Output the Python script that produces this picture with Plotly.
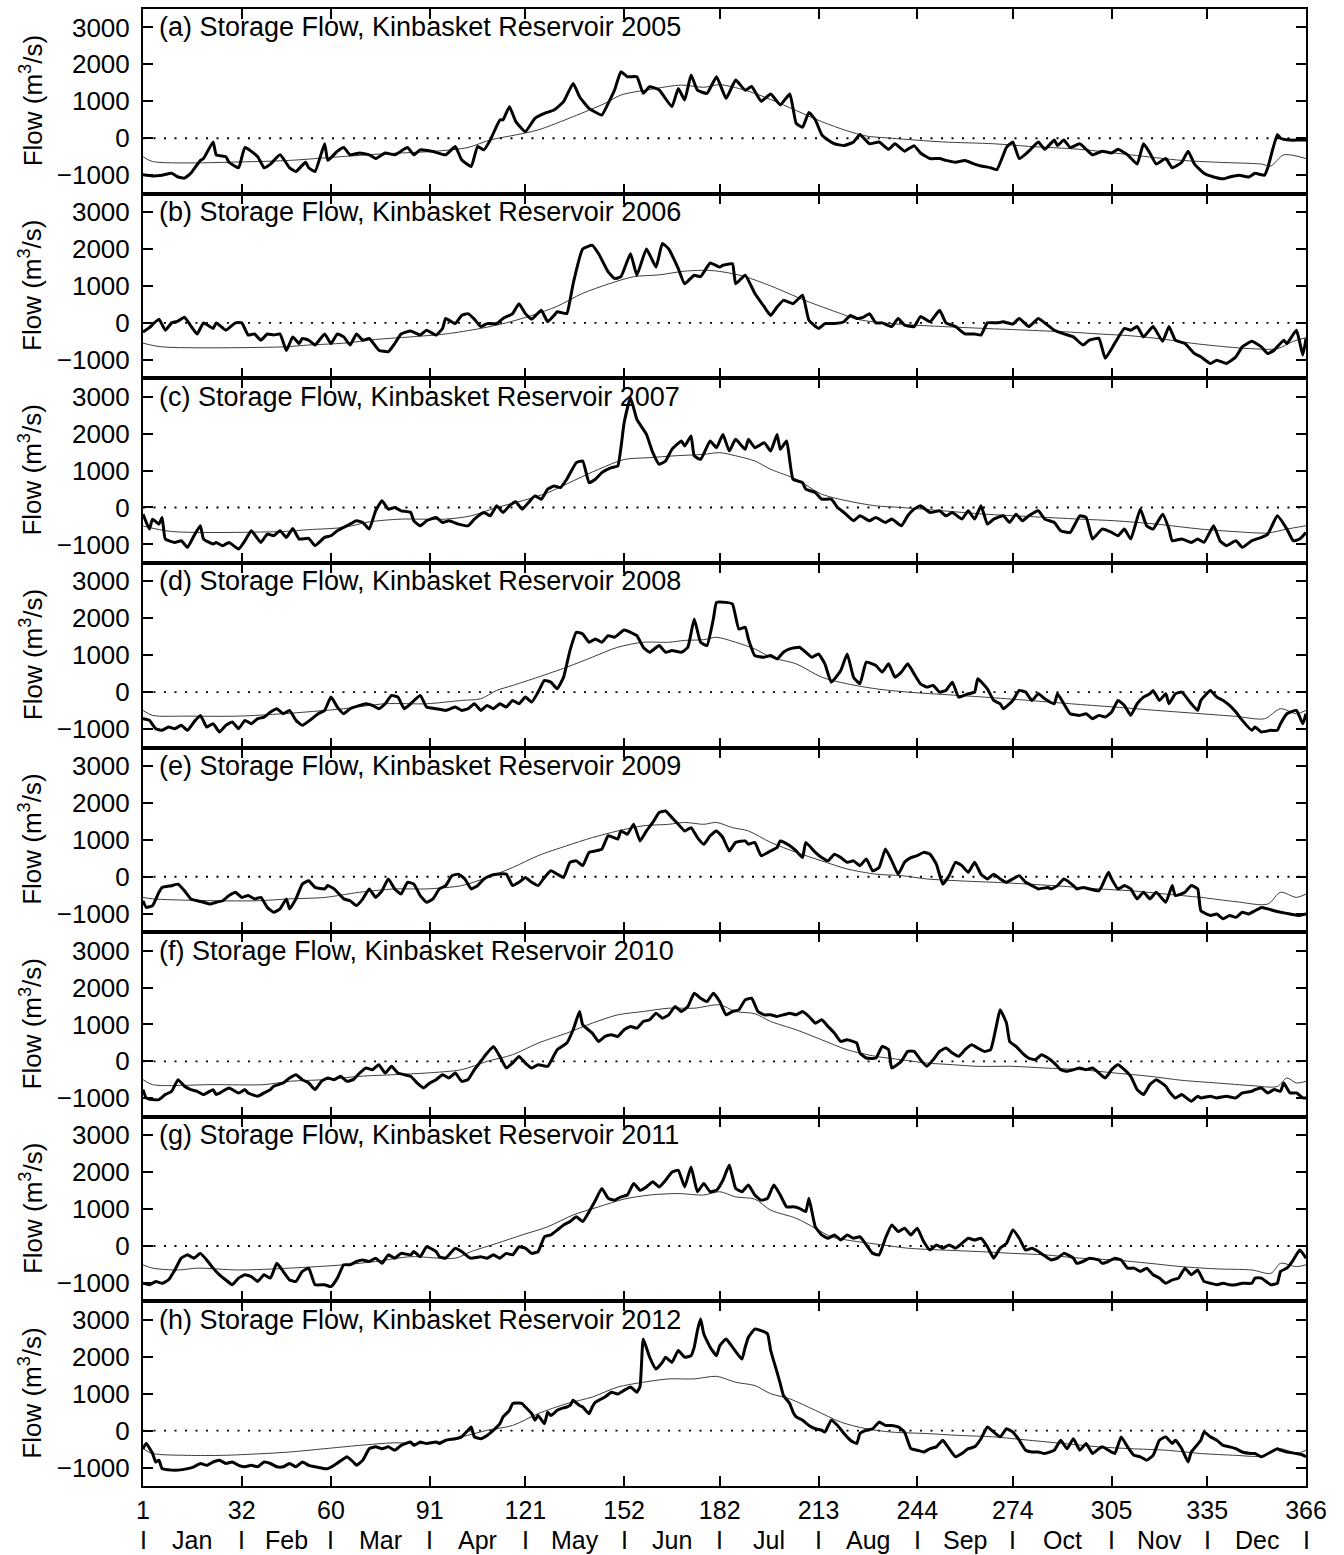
import plotly.graph_objects as go

# ---------------- data ----------------
YEARS = [2005, 2006, 2007, 2008, 2009, 2010, 2011, 2012]
LETTERS = ["a", "b", "c", "d", "e", "f", "g", "h"]
MONTH_BOUNDS = [1, 32, 60, 91, 121, 152, 182, 213, 244, 274, 305, 335, 366]
MONTHS = ["Jan", "Feb", "Mar", "Apr", "May", "Jun", "Jul", "Aug", "Sep", "Oct", "Nov", "Dec"]
Y_TICKS = [-1000, 0, 1000, 2000, 3000]

# daily storage flow (day of year, m3/s) - thick line
FLOW_2005 = [(1,-990),(4,-1020),(7,-1000),(10,-950),(12,-1050),(14,-1080),(16,-950),(19,-600),(20,-550),(23,-100),(24,-450),(27,-500),(28,-650),(31,-800),(33,-250),(37,-500),(39,-800),(41,-700),(44,-450),(47,-800),(49,-900),(52,-650),(53,-800),(55,-900),(58,-150),(59,-600),(62,-350),(64,-250),(66,-450),(69,-400),(72,-450),(74,-550),(77,-400),(80,-450),(84,-250),(86,-450),(88,-315),(92,-360),(96,-450),(99,-225),(101,-585),(104,-765),(106,-225),(108,-315),(110,-45),(113,495),(114,500),(116,855),(118,450),(121,180),(124,540),(127,675),(130,765),(133,990),(136,1485),(138,1125),(141,810),(145,630),(147,945),(149,1305),(151,1800),(153,1665),(156,1665),(158,1215),(160,1395),(163,1305),(167,855),(169,1350),(171,1035),(173,1710),(175,1305),(178,1215),(181,1665),(184,1080),(187,1575),(190,1300),(192,1400),(195,1000),(198,1200),(201,900),(204,1200),(206,400),(208,300),(210,700),(212,500),(214,100),(216,-50),(218,-150),(221,-200),(224,-100),(226,100),(229,-150),(232,-100),(235,-300),(237,-150),(240,-350),(243,-200),(245,-400),(248,-550),(251,-550),(253,-600),(256,-650),(259,-600),(262,-700),(264,-750),(267,-800),(269,-850),(272,-250),(274,-100),(276,-550),(279,-350),(282,-100),(284,-300),(287,-50),(288,-200),(290,-50),(292,-250),(295,-150),(297,-300),(299,-450),(302,-350),(305,-400),(307,-300),(310,-450),(313,-700),(315,-150),(317,-400),(319,-700),(322,-550),(324,-800),(327,-650),(329,-350),(331,-700),(334,-950),(337,-1050),(340,-1100),(342,-1050),(345,-1000),(348,-1050),(350,-950),(353,-1000),(354,-800),(357,100),(358,0),(361,-50),(364,-50),(366,-50)]

FLOW_2006 = [(1,-250),(3,-130),(6,100),(8,-200),(10,0),(12,50),(14,150),(16,-80),(18,-300),(20,0),(23,-150),(24,0),(27,-200),(30,0),(32,0),(34,-330),(36,-300),(38,-470),(40,-300),(42,-330),(44,-300),(46,-750),(48,-380),(50,-560),(51,-420),(53,-470),(55,-600),(58,-300),(60,-560),(62,-300),(64,-380),(66,-600),(68,-300),(70,-470),(72,-420),(75,-740),(78,-780),(80,-560),(82,-300),(85,-220),(88,-330),(90,-200),(93,-330),(95,-150),(96,120),(99,-20),(101,200),(103,250),(105,100),(107,-100),(109,-20),(112,-20),(114,120),(117,250),(119,520),(121,250),(123,100),(126,340),(128,30),(130,200),(131,300),(134,250),(135,600),(136,1060),(139,2000),(142,2100),(144,1870),(147,1380),(149,1200),(151,1250),(154,1870),(156,1290),(159,2000),(162,1510),(164,2150),(166,2000),(169,1470),(171,1060),(174,1290),(176,1250),(179,1620),(182,1510),(183,1560),(186,1600),(187,1060),(190,1290),(193,800),(196,430),(198,200),(200,430),(202,610),(205,520),(208,750),(210,70),(213,-150),(215,-20),(218,-20),(221,30),(223,200),(225,120),(227,150),(229,250),(231,0),(233,0),(236,-100),(238,120),(240,-60),(243,-100),(245,170),(248,30),(251,340),(253,0),(256,-100),(259,-300),(262,-300),(264,-330),(266,0),(269,0),(271,30),(274,-30),(276,120),(279,-100),(282,120),(284,0),(287,-200),(290,-300),(293,-380),(296,-600),(298,-470),(301,-420),(303,-960),(306,-550),(309,-150),(311,-200),(313,-100),(315,-380),(318,-100),(321,-500),(323,-100),(325,-470),(328,-560),(331,-830),(333,-920),(336,-1100),(338,-1010),(341,-1100),(344,-920),(346,-650),(349,-500),(352,-650),(354,-830),(356,-740),(359,-470),(360,-560),(363,-200),(365,-870),(366,-420)]

FLOW_2007 = [(1,-180),(3,-585),(4,-315),(6,-450),(7,-270),(8,-855),(11,-945),(13,-900),(15,-1080),(17,-765),(19,-495),(20,-855),(23,-990),(24,-945),(26,-1035),(28,-945),(31,-1125),(33,-900),(35,-630),(38,-945),(40,-720),(42,-765),(44,-630),(46,-810),(48,-567),(50,-855),(53,-837),(55,-1035),(58,-810),(60,-765),(62,-630),(65,-495),(68,-360),(70,-405),(72,-585),(74,-90),(76,180),(78,-45),(80,0),(82,-90),(85,-135),(86,-360),(88,-495),(90,-360),(93,-270),(95,-405),(97,-360),(100,-450),(103,-495),(105,-315),(108,-135),(110,-225),(112,45),(114,-135),(116,45),(118,153),(120,-45),(122,135),(124,315),(126,225),(128,495),(130,585),(132,540),(134,765),(137,1215),(139,1260),(141,675),(143,765),(145,945),(148,1080),(150,1125),(152,2295),(154,2970),(156,2385),(159,1980),(161,1485),(163,1170),(165,1260),(167,1575),(170,1800),(171,1665),(173,1935),(174,1395),(176,1305),(179,1800),(181,1620),(183,1980),(185,1530),(187,1845),(190,1575),(191,1845),(193,1620),(196,1755),(198,1530),(200,1980),(201,1575),(203,1800),(205,765),(208,675),(209,495),(212,405),(214,225),(217,225),(219,0),(221,-135),(224,-360),(226,-225),(229,-360),(231,-270),(234,-405),(236,-315),(239,-495),(241,-225),(243,-45),(245,45),(248,-135),(251,-90),(253,-225),(255,-135),(258,-315),(260,-90),(262,-315),(264,45),(266,-450),(268,-315),(271,-225),(273,-405),(275,-180),(277,-360),(279,-225),(282,-90),(284,-315),(287,-405),(289,-630),(292,-675),(295,-225),(297,-270),(299,-855),(302,-585),(305,-675),(307,-765),(309,-585),(311,-855),(314,-45),(316,-495),(318,-585),(321,-180),(323,-585),(324,-900),(327,-855),(330,-945),(332,-855),(334,-945),(337,-495),(339,-900),(341,-1035),(344,-900),(346,-1080),(349,-900),(352,-810),(354,-720),(357,-225),(360,-585),(362,-900),(364,-855),(366,-675)]

FLOW_2008 = [(1,-720),(3,-765),(5,-990),(7,-1035),(9,-945),(11,-990),(13,-900),(15,-1035),(17,-810),(19,-630),(21,-945),(23,-855),(25,-1080),(27,-900),(29,-810),(31,-990),(33,-765),(35,-855),(37,-720),(39,-675),(41,-540),(43,-450),(45,-585),(47,-495),(49,-765),(51,-900),(54,-720),(56,-585),(58,-495),(60,-135),(62,-405),(64,-585),(66,-450),(69,-360),(71,-315),(73,-360),(75,-450),(77,-315),(79,-90),(81,-135),(83,-450),(85,-315),(88,-90),(90,-405),(93,-450),(96,-495),(99,-405),(101,-495),(103,-450),(105,-315),(107,-495),(109,-360),(111,-450),(113,-315),(115,-405),(117,-225),(119,-315),(121,-135),(123,-270),(125,0),(127,315),(129,270),(131,90),(133,405),(135,1125),(137,1620),(139,1575),(141,1350),(143,1440),(145,1350),(147,1530),(149,1485),(152,1683),(154,1620),(156,1530),(158,1215),(160,1080),(163,1260),(165,1080),(167,1125),(170,1080),(172,1215),(174,1980),(176,1350),(178,1260),(180,1980),(181,2430),(184,2430),(186,2385),(188,1710),(190,1755),(191,1440),(193,990),(196,945),(198,990),(200,900),(202,1080),(204,1170),(207,1215),(209,1080),(211,945),(213,1035),(215,765),(217,270),(220,585),(222,1035),(224,405),(226,225),(228,810),(231,720),(233,540),(235,765),(237,405),(239,540),(241,765),(243,495),(245,225),(247,135),(249,180),(251,0),(253,45),(255,270),(257,-135),(260,-45),(262,0),(263,360),(266,90),(268,-225),(270,-315),(271,-450),(274,-225),(276,45),(278,0),(280,-225),(282,-45),(284,-180),(287,-315),(288,-45),(290,-315),(292,-585),(295,-630),(297,-585),(299,-720),(301,-630),(303,-675),(305,-540),(307,-225),(309,-360),(311,-630),(313,-315),(315,-135),(317,-45),(318,45),(320,-225),(322,-45),(323,-315),(325,-45),(327,0),(330,-315),(332,-495),(333,-225),(336,45),(338,-135),(340,-225),(342,-360),(344,-540),(346,-765),(349,-1035),(350,-945),(352,-1080),(355,-1035),(357,-1035),(358,-855),(360,-585),(363,-495),(365,-855),(366,-585)]

FLOW_2009 = [(1,-650),(2,-830),(4,-780),(6,-420),(7,-290),(10,-243),(12,-200),(14,-380),(16,-600),(18,-650),(20,-690),(22,-740),(24,-690),(26,-650),(28,-510),(30,-420),(32,-560),(34,-510),(36,-600),(38,-560),(40,-830),(42,-960),(44,-870),(46,-600),(47,-870),(49,-600),(51,-200),(53,-110),(55,-290),(58,-330),(59,-240),(61,-330),(64,-600),(66,-650),(68,-780),(70,-600),(72,-330),(74,-560),(76,-380),(78,-60),(80,-330),(82,-470),(84,-150),(86,-200),(88,-510),(90,-690),(92,-600),(94,-330),(96,-240),(98,30),(100,70),(102,-60),(104,-330),(106,-240),(108,-60),(110,30),(112,70),(115,70),(117,-240),(119,-150),(121,-20),(123,-150),(125,-240),(127,-20),(129,160),(131,70),(133,-20),(135,390),(137,430),(139,300),(141,660),(143,700),(145,750),(147,1110),(150,1020),(151,1240),(153,1150),(155,1420),(157,970),(159,1240),(161,1470),(163,1740),(165,1780),(167,1600),(169,1420),(171,1240),(173,1330),(175,1060),(177,880),(179,1110),(181,1240),(183,1060),(185,700),(187,930),(190,970),(191,880),(193,930),(195,570),(198,700),(200,790),(201,970),(204,840),(206,700),(208,520),(209,930),(212,660),(214,520),(216,430),(218,610),(220,520),(222,390),(224,430),(226,300),(228,480),(230,160),(232,250),(234,750),(236,430),(238,70),(240,390),(242,520),(244,570),(246,660),(248,610),(250,340),(252,-200),(254,30),(256,390),(258,300),(260,120),(262,390),(264,70),(266,-60),(268,70),(270,-60),(272,-150),(274,-60),(276,30),(278,-150),(280,-240),(282,-330),(285,-290),(286,-330),(288,-240),(290,-60),(293,-240),(294,-330),(296,-290),(298,-330),(301,-380),(302,-240),(304,120),(305,-60),(307,-330),(309,-240),(311,-330),(313,-600),(315,-420),(317,-600),(319,-420),(322,-690),(324,-240),(325,-510),(328,-420),(330,-240),(332,-330),(333,-920),(336,-1050),(338,-1010),(340,-1140),(342,-1050),(344,-1100),(346,-960),(348,-1010),(350,-920),(352,-830),(354,-870),(356,-920),(358,-960),(361,-1010),(364,-1050),(366,-1010)]

FLOW_2010 = [(1,-765),(2,-990),(4,-1035),(6,-1035),(8,-900),(10,-810),(12,-495),(14,-675),(16,-765),(18,-810),(20,-900),(23,-765),(24,-900),(26,-810),(28,-720),(31,-855),(33,-765),(34,-855),(37,-945),(39,-855),(41,-765),(42,-675),(45,-585),(47,-450),(49,-360),(51,-495),(53,-585),(55,-765),(57,-540),(59,-450),(61,-495),(63,-405),(65,-540),(67,-495),(69,-315),(71,-180),(73,-225),(75,-90),(77,-315),(79,-135),(81,-315),(83,-360),(85,-405),(87,-585),(89,-720),(91,-585),(93,-495),(95,-360),(97,-450),(99,-315),(101,-540),(103,-495),(105,-225),(107,0),(109,225),(111,405),(113,135),(115,-180),(117,-45),(119,135),(121,-45),(123,-180),(125,-90),(128,-135),(129,0),(131,315),(134,495),(136,855),(138,1350),(139,990),(142,765),(144,540),(146,675),(148,720),(150,675),(152,855),(154,945),(156,900),(158,1080),(160,1125),(162,1305),(164,1170),(166,1260),(168,1485),(170,1350),(172,1485),(174,1845),(176,1710),(178,1620),(180,1845),(182,1620),(184,1260),(186,1350),(188,1395),(190,1665),(192,1710),(194,1350),(196,1260),(198,1260),(200,1215),(202,1260),(204,1305),(206,1260),(208,1350),(210,1215),(212,1035),(214,1125),(216,945),(218,765),(220,540),(222,585),(225,495),(226,225),(228,90),(231,90),(233,405),(235,315),(236,-180),(239,0),(241,270),(243,270),(245,45),(247,-135),(249,45),(251,270),(253,360),(255,225),(257,135),(259,315),(261,450),(263,360),(265,270),(267,315),(269,1035),(270,1395),(272,1035),(273,540),(275,405),(277,225),(279,90),(281,45),(283,180),(285,90),(287,-45),(289,-225),(291,-270),(293,-225),(295,-180),(297,-225),(299,-180),(301,-315),(303,-450),(305,-225),(307,-90),(309,-225),(311,-405),(313,-765),(315,-900),(317,-630),(319,-495),(322,-675),(323,-810),(325,-990),(327,-900),(330,-1080),(332,-945),(333,-990),(336,-945),(338,-990),(341,-945),(344,-990),(346,-855),(349,-810),(350,-765),(352,-720),(354,-855),(356,-765),(358,-810),(359,-585),(361,-855),(363,-855),(365,-990),(366,-990)]

FLOW_2011 = [(1,-1010),(3,-1050),(5,-960),(7,-1010),(9,-920),(11,-650),(13,-330),(15,-240),(17,-330),(19,-200),(21,-380),(23,-600),(25,-780),(27,-920),(29,-1050),(31,-870),(33,-780),(35,-830),(37,-960),(39,-780),(41,-870),(43,-470),(45,-690),(47,-920),(49,-960),(51,-690),(53,-600),(55,-1050),(58,-1050),(60,-1100),(62,-870),(64,-510),(66,-510),(68,-420),(70,-380),(72,-420),(74,-330),(76,-470),(78,-240),(80,-330),(82,-200),(85,-240),(86,-150),(88,-290),(90,-20),(93,-150),(94,-290),(96,-330),(99,-60),(101,-150),(103,-290),(104,-330),(107,-290),(109,-330),(111,-240),(113,-330),(115,-200),(117,-240),(119,-20),(121,-60),(123,-200),(125,-150),(127,250),(129,300),(131,430),(133,570),(135,660),(137,790),(139,660),(141,930),(143,1240),(145,1560),(147,1290),(149,1240),(151,1330),(153,1380),(155,1690),(157,1510),(159,1600),(161,1740),(163,1600),(165,1780),(167,2000),(169,2050),(171,1600),(173,2140),(175,1470),(177,1690),(179,1470),(181,1510),(183,1780),(185,2190),(187,1560),(189,1470),(191,1650),(193,1380),(195,1240),(197,1290),(199,1650),(201,1380),(203,1060),(205,1060),(207,1020),(209,930),(210,1290),(212,520),(214,300),(216,210),(218,300),(220,160),(222,300),(224,210),(226,250),(228,30),(230,-200),(232,-240),(234,210),(236,570),(238,390),(240,480),(242,300),(244,480),(246,120),(248,-110),(250,30),(252,-60),(254,30),(256,-60),(258,70),(260,210),(262,160),(264,210),(266,-20),(268,-330),(270,-60),(272,70),(274,430),(276,210),(278,-110),(280,-60),(282,-150),(285,-330),(286,-380),(288,-330),(290,-200),(293,-330),(294,-470),(296,-420),(298,-330),(301,-380),(302,-470),(304,-420),(306,-330),(308,-380),(310,-600),(312,-600),(314,-690),(316,-600),(318,-780),(320,-870),(322,-1010),(324,-920),(326,-870),(328,-600),(330,-780),(332,-650),(334,-960),(336,-1010),(338,-1050),(340,-1010),(342,-1050),(344,-1050),(346,-1010),(349,-1010),(350,-870),(352,-870),(355,-1050),(357,-1010),(358,-690),(360,-600),(362,-380),(364,-110),(365,-200),(366,-330)]

FLOW_2012 = [(1,-490),(2,-350),(4,-620),(5,-850),(6,-800),(7,-1030),(10,-1070),(12,-1070),(15,-1030),(17,-980),(19,-890),(21,-940),(23,-850),(25,-800),(27,-890),(29,-850),(31,-940),(33,-980),(35,-940),(37,-980),(39,-850),(41,-890),(43,-980),(45,-980),(47,-890),(49,-980),(51,-850),(53,-940),(55,-980),(58,-1030),(59,-1030),(61,-940),(64,-760),(65,-710),(67,-850),(68,-940),(70,-800),(72,-490),(74,-440),(76,-490),(78,-440),(80,-530),(82,-400),(85,-310),(86,-400),(88,-310),(90,-350),(93,-310),(94,-350),(96,-260),(99,-220),(101,-170),(103,10),(104,100),(105,-170),(107,-220),(109,-130),(111,10),(113,190),(114,370),(116,550),(117,730),(119,750),(120,730),(121,640),(123,460),(124,280),(125,410),(127,190),(128,500),(129,410),(131,550),(132,590),(134,640),(135,680),(136,820),(138,680),(139,640),(141,460),(142,640),(143,770),(144,820),(146,910),(148,1040),(150,990),(152,1090),(154,1180),(156,1040),(157,1200),(158,2480),(160,1990),(162,1670),(164,1850),(165,1990),(167,1850),(169,2170),(171,1990),(173,2030),(174,2260),(175,2710),(176,3020),(177,2620),(179,2260),(181,2030),(182,2300),(184,2480),(186,2260),(188,2030),(189,1940),(190,2260),(191,2530),(193,2750),(195,2710),(197,2620),(198,2170),(200,1580),(201,1270),(202,950),(204,730),(205,500),(206,370),(208,280),(210,140),(212,50),(214,10),(215,-40),(217,280),(219,140),(221,-80),(223,-260),(225,-350),(226,-80),(228,10),(230,50),(232,230),(234,140),(236,140),(238,100),(240,-40),(242,-490),(244,-530),(246,-580),(248,-490),(250,-440),(252,-260),(254,-490),(256,-710),(258,-620),(260,-490),(262,-440),(264,-220),(266,100),(268,-40),(270,-170),(272,50),(274,-40),(276,-260),(278,-530),(280,-580),(282,-580),(284,-620),(287,-530),(289,-260),(291,-490),(293,-220),(295,-530),(297,-350),(299,-620),(301,-490),(302,-440),(304,-530),(306,-620),(308,-170),(310,-440),(312,-670),(314,-710),(316,-800),(318,-670),(320,-260),(322,-170),(324,-350),(325,-260),(327,-490),(329,-850),(330,-580),(333,-260),(334,-40),(336,-170),(338,-260),(340,-400),(342,-440),(344,-490),(346,-580),(349,-620),(350,-620),(352,-710),(355,-580),(357,-490),(358,-530),(360,-580),(363,-620),(365,-660),(366,-710)]

# reference storage flow (thin line)
REF_2005 = [(1,-500),(4,-630),(37,-630),(47,-600),(63,-500),(77,-420),(93,-350),(103,-250),(110,-45),(118,90),(125,225),(136,585),(146,945),(151,1170),(160,1320),(170,1440),(177,1380),(182,1450),(190,1300),(198,1050),(206,750),(214,450),(222,200),(228,60),(236,0),(252,-100),(268,-150),(279,-220),(295,-300),(311,-450),(327,-600),(338,-650),(352,-700),(355,-750),(359,-450),(366,-550)]
REF_2006 = [(1,-550),(7,-650),(45,-650),(53,-600),(64,-550),(74,-450),(85,-380),(96,-300),(107,-150),(115,0),(123,200),(131,450),(139,800),(147,1050),(155,1250),(163,1300),(171,1400),(179,1420),(185,1350),(190,1250),(198,1000),(209,600),(220,250),(225,100),(233,0),(241,-50),(252,-100),(265,-150),(279,-200),(292,-250),(301,-300),(311,-350),(322,-450),(330,-550),(341,-650),(349,-700),(357,-700),(362,-500),(366,-400)]
REF_2007 = [(1,-500),(10,-650),(45,-650),(53,-600),(64,-540),(72,-390),(82,-315),(96,-315),(104,-225),(112,0),(120,180),(128,400),(136,720),(144,1035),(152,1300),(160,1350),(168,1400),(177,1440),(182,1485),(187,1400),(193,1260),(198,1035),(206,765),(214,360),(222,180),(231,45),(239,0),(252,-90),(265,-180),(279,-245),(295,-315),(306,-360),(319,-450),(333,-585),(344,-655),(354,-690),(360,-585),(366,-495)]
REF_2008 = [(1,-495),(4,-630),(15,-650),(31,-650),(45,-585),(64,-450),(77,-315),(90,-315),(101,-225),(107,-180),(112,45),(117,180),(125,405),(134,675),(142,945),(150,1215),(158,1350),(166,1350),(171,1400),(177,1420),(181,1485),(187,1350),(193,1170),(198,945),(206,765),(214,405),(222,225),(231,90),(241,0),(252,-63),(265,-135),(279,-225),(292,-315),(306,-405),(319,-495),(333,-585),(344,-657),(353,-720),(358,-450),(363,-585),(366,-495)]
REF_2009 = [(1,-560),(4,-600),(23,-650),(37,-650),(47,-600),(58,-560),(69,-420),(80,-330),(90,-330),(101,-240),(109,-20),(117,250),(125,570),(134,840),(142,1060),(150,1240),(158,1380),(166,1420),(171,1470),(177,1420),(181,1470),(186,1330),(191,1240),(198,930),(206,660),(214,430),(222,210),(231,70),(239,30),(247,-60),(257,-110),(268,-150),(279,-200),(290,-260),(301,-330),(311,-380),(322,-470),(333,-560),(344,-675),(354,-740),(358,-420),(363,-560),(366,-470)]
REF_2010 = [(1,-495),(4,-630),(23,-630),(39,-630),(47,-540),(58,-495),(69,-405),(80,-360),(90,-315),(101,-225),(109,0),(117,180),(125,495),(134,765),(142,1035),(150,1260),(158,1350),(166,1440),(174,1440),(182,1530),(187,1350),(193,1290),(198,1080),(206,855),(214,585),(222,315),(231,135),(239,45),(247,-45),(255,-90),(263,-135),(274,-135),(284,-180),(295,-225),(306,-315),(317,-405),(327,-513),(338,-585),(349,-657),(357,-680),(360,-450),(363,-585),(366,-540)]
REF_2011 = [(1,-510),(4,-600),(12,-650),(18,-600),(31,-650),(47,-600),(64,-510),(74,-420),(85,-290),(99,-330),(104,-150),(112,70),(120,300),(128,520),(136,840),(144,1060),(152,1270),(160,1380),(169,1420),(177,1380),(182,1470),(187,1330),(193,1270),(198,970),(206,750),(212,480),(217,250),(225,120),(233,30),(241,-60),(252,-110),(263,-150),(274,-200),(284,-240),(295,-330),(306,-380),(317,-470),(327,-560),(338,-620),(349,-650),(355,-740),(358,-470),(363,-560),(366,-510)]
REF_2012 = [(1,-490),(4,-620),(15,-670),(26,-670),(37,-630),(47,-580),(58,-490),(69,-400),(80,-330),(90,-350),(101,-170),(109,10),(117,140),(125,460),(134,730),(142,910),(150,1180),(158,1310),(166,1400),(174,1400),(181,1470),(187,1310),(193,1220),(198,1000),(204,860),(212,550),(220,230),(228,50),(236,-40),(247,-80),(257,-130),(268,-170),(279,-260),(290,-350),(301,-440),(311,-490),(322,-530),(333,-620),(344,-670),(352,-690),(358,-490),(363,-620),(366,-530)]

FLOWS = [FLOW_2005, FLOW_2006, FLOW_2007, FLOW_2008, FLOW_2009, FLOW_2010, FLOW_2011, FLOW_2012]
REFS = [REF_2005, REF_2006, REF_2007, REF_2008, REF_2009, REF_2010, REF_2011, REF_2012]

# ---------------- figure ----------------
FONT = "Liberation Sans, Arial, sans-serif"
W, H = 1344, 1555
M = dict(l=143, r=38, t=7, b=69)
N = len(YEARS)

fig = go.Figure()
layout = {}
shapes = []
annotations = []

for k in range(N):
    sfx = "" if k == 0 else str(k + 1)
    xa, ya = "x" + sfx, "y" + sfx
    rd, rv = zip(*REFS[k])
    fd, fv = zip(*FLOWS[k])
    fig.add_trace(go.Scatter(x=list(rd), y=list(rv), xaxis=xa, yaxis=ya, mode="lines",
                             line=dict(color="#3c3c3c", width=1, shape="spline", smoothing=0.8),
                             showlegend=False, hoverinfo="skip"))
    fig.add_trace(go.Scatter(x=list(fd), y=list(fv), xaxis=xa, yaxis=ya, mode="lines",
                             line=dict(color="black", width=3, shape="spline", smoothing=0.4),
                             showlegend=False))
    top = 1 - k / N
    bot = 1 - (k + 1) / N
    last = (k == N - 1)
    layout["xaxis" + sfx] = dict(
        domain=[0, 1], anchor=ya, range=[1, 366],
        tickmode="array", tickvals=MONTH_BOUNDS, ticktext=[str(v) for v in MONTH_BOUNDS],
        ticks="inside", ticklen=10, tickwidth=1.5, tickcolor="black",
        showline=True, linewidth=2, linecolor="black", mirror="ticks",
        showgrid=False, zeroline=False, showticklabels=last,
        tickfont=dict(family=FONT, size=25, color="black"), ticklabelstandoff=1,
    )
    layout["yaxis" + sfx] = dict(
        domain=[bot, top], anchor=xa, range=[-1500, 3500],
        tickmode="array", tickvals=Y_TICKS,
        ticks="inside", ticklen=10, tickwidth=1.5, tickcolor="black",
        showline=True, linewidth=2, linecolor="black", mirror="ticks",
        showgrid=False, zeroline=False,
        tickfont=dict(family=FONT, size=26, color="black"), ticklabelstandoff=6,
    )
    shapes.append(dict(type="line", xref=xa + " domain", yref=ya, x0=0, x1=1, y0=0, y1=0,
                       line=dict(color="black", width=1.8, dash="2px,8.5px"), layer="below"))
    annotations.append(dict(
        text=f"({LETTERS[k]}) Storage Flow, Kinbasket Reservoir {YEARS[k]}",
        xref=xa + " domain", yref=ya, x=0.012, y=3000, xanchor="left", yanchor="middle",
        showarrow=False, font=dict(family=FONT, size=27, color="black")))
    annotations.append(dict(
        text="Flow (m<sup>3</sup>/s)", textangle=-90,
        xref="paper", yref=ya + " domain", x=-0.0963, y=0.5, xanchor="center", yanchor="middle",
        showarrow=False, font=dict(family=FONT, size=26, color="black")))

# month row under the last axis
plot_h = H - M["t"] - M["b"]
row_y = -(1540 - (H - M["b"])) / plot_h
last_x = "x" + str(N)
for b in MONTH_BOUNDS:
    annotations.append(dict(text="I", xref=last_x, yref="paper", x=b, y=row_y,
                            xanchor="center", yanchor="middle", showarrow=False,
                            font=dict(family=FONT, size=25, color="black")))
for i, name in enumerate(MONTHS):
    mid = (MONTH_BOUNDS[i] + MONTH_BOUNDS[i + 1]) / 2
    annotations.append(dict(text=name, xref=last_x, yref="paper", x=mid, y=row_y,
                            xanchor="center", yanchor="middle", showarrow=False,
                            font=dict(family=FONT, size=25, color="black")))

fig.update_layout(
    width=W, height=H, margin=M,
    paper_bgcolor="white", plot_bgcolor="white",
    font=dict(family=FONT, color="black"),
    shapes=shapes, annotations=annotations, showlegend=False,
    **layout,
)

fig.write_html("out.html")
